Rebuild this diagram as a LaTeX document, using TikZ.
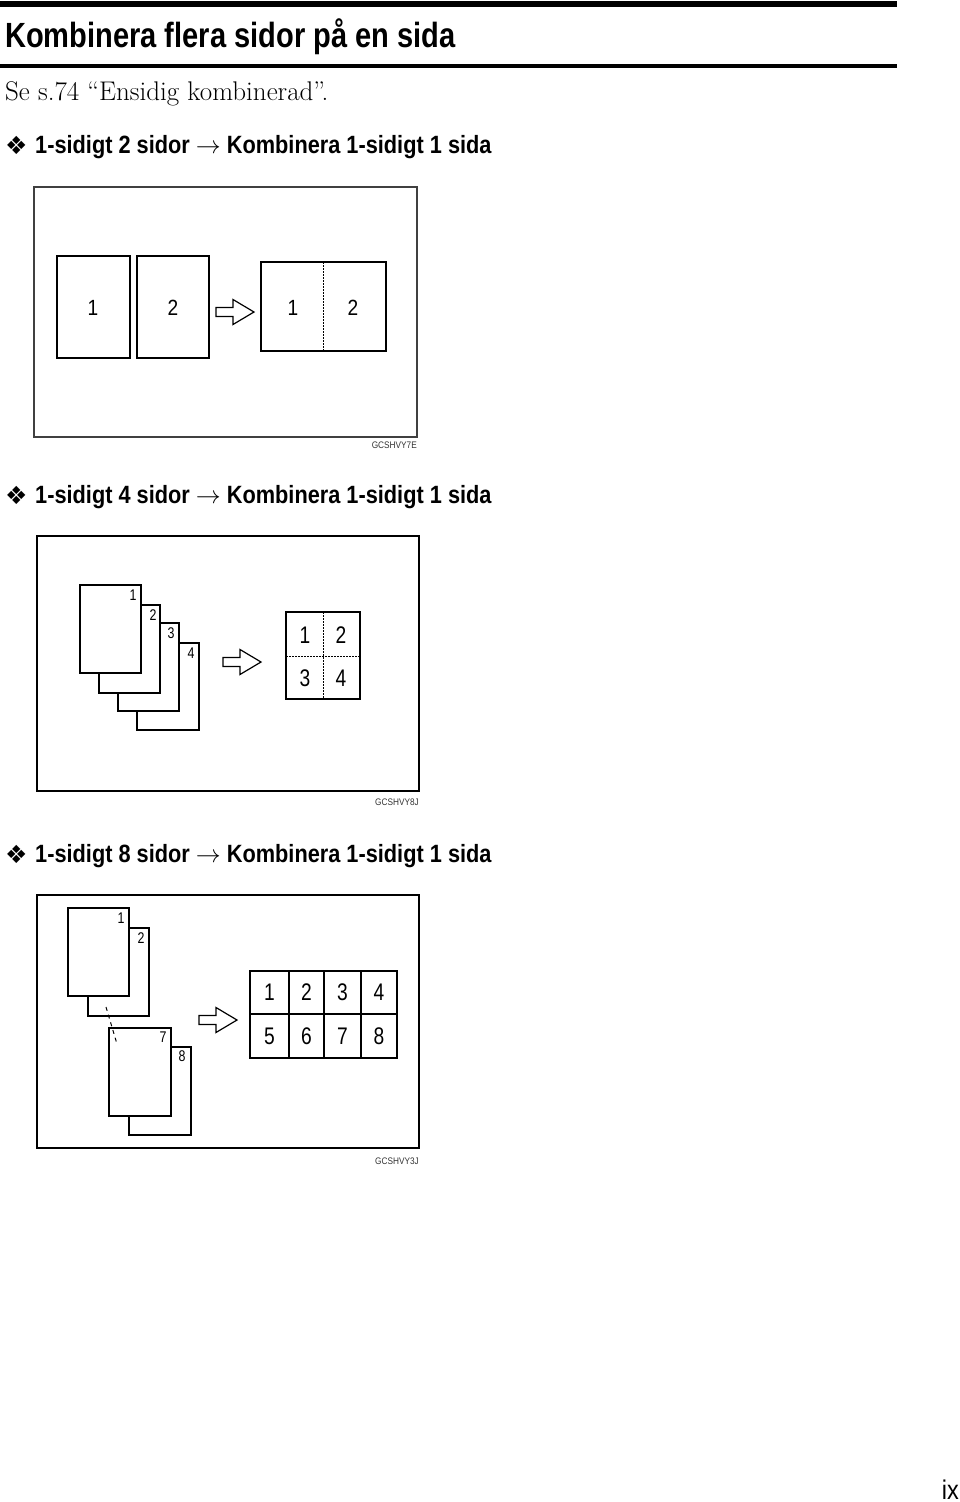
\documentclass[tikz,border=0pt]{standalone}
\usepackage{fontspec}
\newfontfamily\headfont[FakeStretch=0.87]{Liberation Sans}
\newfontfamily\titlefont[FakeStretch=0.83]{Liberation Sans}
\newfontfamily\digitfont[FakeStretch=0.8]{Liberation Sans}
\newfontfamily\symfont{DejaVu Sans}
\newcommand{\blockarrow}[1]{%
  \draw[blockarr] (#1) ++(0,-4.5) -- ++(17,0) -- ++(0,-8) -- ++(21,12.5)
    -- ++(-21,12.5) -- ++(0,-8) -- ++(-17,0) -- cycle;}
\begin{document}
\begin{tikzpicture}[x=1pt,y=-1pt,
  page/.style={draw=black,line width=1.2pt,fill=white},
  thinframe/.style={draw=black!75,line width=1.3pt},
  thickframe/.style={draw=black,line width=2.6pt},
  divider/.style={draw=black,line width=1pt,dash pattern=on 1.5pt off 1.5pt},
  blockarr/.style={draw=black,line width=1.2pt,fill=white,line join=miter},
  bignum/.style={inner sep=0pt,font=\headfont\fontsize{22}{22}\selectfont},
  gridnum/.style={inner sep=0pt,font=\digitfont\fontsize{24}{24}\selectfont},
  smallnum/.style={inner sep=0pt,font=\digitfont\fontsize{15.5}{15.5}\selectfont},
  codelabel/.style={inner sep=0pt,anchor=base east,text=black!80,
    font=\headfont\fontsize{9.5}{9.5}\selectfont},
  heading/.style={inner sep=0pt,anchor=base west,
    font=\headfont\bfseries\fontsize{25}{25}\selectfont},
  bullet/.style={inner sep=0pt,anchor=base west,font=\symfont\fontsize{25}{25}\selectfont}]
\useasboundingbox (0,0) rectangle (960,1502);
% coordinates
\coordinate (ruleA1) at (  0,   4);
\coordinate (ruleA2) at (897,   4);
\coordinate (ruleB1) at (  0,  66);
\coordinate (ruleB2) at (897,  66);
\coordinate (arrA)   at (216, 312);
\coordinate (arrB)   at (223, 662);
\coordinate (arrC)   at (199,1020);
% page header
\draw[line width=6pt]   (ruleA1) -- (ruleA2);
\draw[line width=3.5pt] (ruleB1) -- (ruleB2);
\node[inner sep=0pt,anchor=base west,font=\titlefont\bfseries\fontsize{35}{35}\selectfont]
  (title) at (5,47) {Kombinera flera sidor på en sida};
\node[inner sep=0pt,anchor=base west,font=\fontsize{27}{27}\selectfont]
  (seeref) at (5,100) {Se s.74 “Ensidig kombinerad”.};
% first diagram
\node[bullet]  (bulA) at (5,154) {❖};
\node[heading] (headA) at (35,153) {1-sidigt 2 sidor $\rightarrow$ Kombinera 1-sidigt 1 sida};
\draw[thinframe] (34,187) rectangle (417,437);
\draw[page] (57,256) rectangle (130,358);
\draw[page] (137,256) rectangle (209,358);
\node[bignum] (srcA1) at ( 93,308) {1};
\node[bignum] (srcA2) at (173,308) {2};
\blockarrow{arrA}
\draw[page] (261,262) rectangle (386,351);
\draw[divider] (323,262) -- (323,351);
\node[bignum] (resA1) at (293,308) {1};
\node[bignum] (resA2) at (353,308) {2};
\node[codelabel] (codeA) at (417,448) {GCSHVY7E};
% second diagram
\node[bullet]  (bulB) at (5,504) {❖};
\node[heading] (headB) at (35,503) {1-sidigt 4 sidor $\rightarrow$ Kombinera 1-sidigt 1 sida};
\draw[thickframe] (37,536) rectangle (419,791);
\draw[page] (137,643) rectangle (199,730);
\draw[page] (118,623) rectangle (179,711);
\draw[page] ( 99,605) rectangle (160,693);
\draw[page] ( 80,585) rectangle (141,673);
\node[smallnum] (srcB1) at (133,595) {1};
\node[smallnum] (srcB2) at (153,615) {2};
\node[smallnum] (srcB3) at (171,633) {3};
\node[smallnum] (srcB4) at (191,653) {4};
\blockarrow{arrB}
\draw[page] (286,612) rectangle (360,699);
\draw[divider] (323,612) -- (323,699);
\draw[divider] (286,656) -- (360,656);
\node[gridnum] (resB1) at (305,635) {1};
\node[gridnum] (resB2) at (341,635) {2};
\node[gridnum] (resB3) at (305,678) {3};
\node[gridnum] (resB4) at (341,678) {4};
\node[codelabel] (codeB) at (419,805) {GCSHVY8J};
% third diagram
\node[bullet]  (bulC) at (5,863) {❖};
\node[heading] (headC) at (35,862) {1-sidigt 8 sidor $\rightarrow$ Kombinera 1-sidigt 1 sida};
\draw[thickframe] (37,895) rectangle (419,1148);
\draw[page] ( 88, 928) rectangle (149,1016);
\draw[page] ( 68, 908) rectangle (129, 996);
\draw[page] (129,1047) rectangle (191,1135);
\draw[page] (109,1028) rectangle (171,1116);
\draw[line width=1pt,dash pattern=on 4pt off 4pt] (106,1007) -- (117,1044);
\node[smallnum] (srcC1) at (121, 918) {1};
\node[smallnum] (srcC2) at (141, 938) {2};
\node[smallnum] (srcC7) at (163,1037) {7};
\node[smallnum] (srcC8) at (182,1056) {8};
\blockarrow{arrC}
\draw[page] (250,971) rectangle (397,1058);
\draw[line width=1.2pt] (289,971) -- (289,1058);
\draw[line width=1.2pt] (324,971) -- (324,1058);
\draw[line width=1.2pt] (361,971) -- (361,1058);
\draw[line width=1.2pt] (250,1014) -- (397,1014);
\node[gridnum] (resC1) at (269.5, 992.5) {1};
\node[gridnum] (resC2) at (306.5, 992.5) {2};
\node[gridnum] (resC3) at (342.5, 992.5) {3};
\node[gridnum] (resC4) at (379,   992.5) {4};
\node[gridnum] (resC5) at (269.5,1036) {5};
\node[gridnum] (resC6) at (306.5,1036) {6};
\node[gridnum] (resC7) at (342.5,1036) {7};
\node[gridnum] (resC8) at (379,  1036) {8};
\node[codelabel] (codeC) at (419,1164) {GCSHVY3J};
% folio
\node[inner sep=0pt,anchor=base east,font=\headfont\fontsize{27}{27}\selectfont]
  (folio) at (959,1499) {ix};
\end{tikzpicture}
\end{document}
